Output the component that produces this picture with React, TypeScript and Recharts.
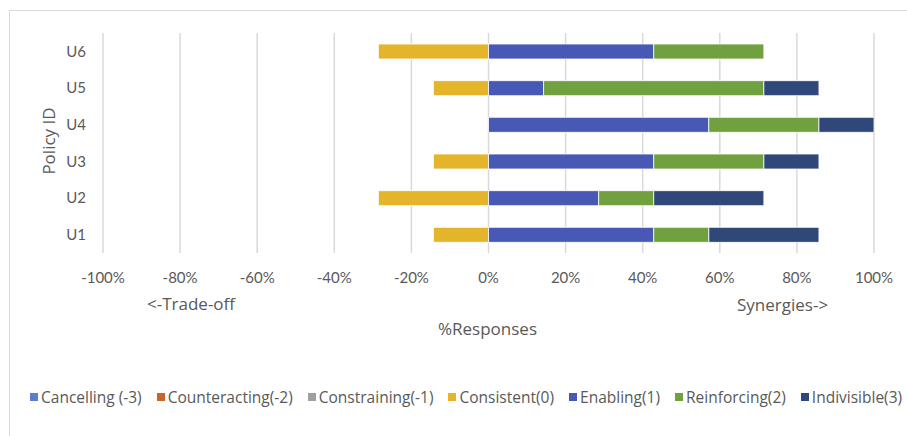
import { BarChart, Bar, XAxis, YAxis, CartesianGrid } from "recharts"

// Policy IDs, bottom to top
const policies = ["U1", "U2", "U3", "U4", "U5", "U6"]

// Share of responses per interaction score (Consistent is plotted to the left of zero)
const cancelling = [0, 0, 0, 0, 0, 0]
const counteracting = [0, 0, 0, 0, 0, 0]
const constraining = [0, 0, 0, 0, 0, 0]
const consistent = [-0.1429, -0.2857, -0.1429, 0, -0.1429, -0.2857]
const enabling = [0.4286, 0.2857, 0.4286, 0.5714, 0.1429, 0.4286]
const reinforcing = [0.1429, 0.1429, 0.2857, 0.2857, 0.5714, 0.2857]
const indivisible = [0.2857, 0.2857, 0.1429, 0.1429, 0.1429, 0]

const xTicks = [-1, -0.8, -0.6, -0.4, -0.2, 0, 0.2, 0.4, 0.6, 0.8, 1]

const SERIES = [
  { key: "cancelling", name: "Cancelling (-3)", color: "#5B7FCF", values: cancelling },
  { key: "counteracting", name: "Counteracting(-2)", color: "#C9652B", values: counteracting },
  { key: "constraining", name: "Constraining(-1)", color: "#A0A0A0", values: constraining },
  { key: "consistent", name: "Consistent(0)", color: "#E4B52B", values: consistent },
  { key: "enabling", name: "Enabling(1)", color: "#4759B5", values: enabling },
  { key: "reinforcing", name: "Reinforcing(2)", color: "#71A03F", values: reinforcing },
  { key: "indivisible", name: "Indivisible(3)", color: "#2F4779", values: indivisible },
]

const data = policies.map((id, i) => {
  const row: Record<string, number | string> = { id }
  SERIES.forEach((s) => (row[s.key] = s.values[i]))
  return row
})

const TICK_FONT = "Lato, 'Open Sans', sans-serif"
const FONT = "'Open Sans', Lato, sans-serif"
const TEXT = "#595959"

const pct = (v: number) => `${Math.round(v * 100)}%`

function ChartLegend() {
  return (
    <div
      style={{
        position: "absolute",
        left: 30,
        top: 386,
        display: "flex",
        gap: 15,
        fontFamily: FONT,
        fontSize: 15.5,
        color: TEXT,
        whiteSpace: "nowrap",
      }}
    >
      {SERIES.map((s) => (
        <div key={s.key} style={{ display: "flex", alignItems: "center", gap: 3 }}>
          <span style={{ width: 8, height: 8, background: s.color, display: "inline-block" }} />
          <span>{s.name}</span>
        </div>
      ))}
    </div>
  )
}

const label = (text: string, left: number, top: number, extra: React.CSSProperties = {}) => (
  <div
    style={{
      position: "absolute",
      left,
      top,
      fontFamily: FONT,
      fontSize: 17,
      color: TEXT,
      whiteSpace: "nowrap",
      ...extra,
    }}
  >
    {text}
  </div>
)

export default function App() {
  return (
    <div style={{ position: "absolute", left: 0, top: 0, width: 907, height: 436, overflow: "hidden", background: "#fff" }}>
      <div
        style={{
          position: "absolute",
          left: 9,
          top: 10,
          width: 920,
          height: 460,
          border: "1px solid #d9d9d9",
        }}
      />
      <BarChart
        width={907}
        height={436}
        data={data}
        layout="vertical"
        stackOffset="sign"
        barSize={15}
        margin={{ top: 33, right: 33, bottom: 143, left: 0 }}
        style={{ position: "absolute", left: 0, top: 0 }}
      >
        <CartesianGrid horizontal={false} stroke="#d9d9d9" strokeWidth={1.5} />
        <XAxis
          type="number"
          domain={[-1, 1]}
          ticks={xTicks}
          tickFormatter={pct}
          axisLine={false}
          tickLine={false}
          tickSize={0}
          tickMargin={19}
          height={40}
          tick={{ fill: TEXT, fontSize: 15, fontFamily: TICK_FONT }}
        />
        <YAxis
          type="category"
          dataKey="id"
          reversed
          width={103}
          axisLine={false}
          tickLine={false}
          tickSize={0}
          tickMargin={17}
          tick={{ fill: TEXT, fontSize: 15, fontFamily: TICK_FONT }}
        />
        {SERIES.map((s) => (
          <Bar
            key={s.key}
            dataKey={s.key}
            name={s.name}
            stackId="a"
            fill={s.color}
            stroke="#ffffff"
            strokeWidth={0.8}
            isAnimationActive={false}
          />
        ))}
      </BarChart>
      {label("<-Trade-off", 147, 292)}
      {label("Synergies->", 737, 293)}
      {label("%Responses", 438, 317)}
      {label("Policy ID", 48, 141, { transform: "translate(-50%, -50%) rotate(-90deg)" })}
      <ChartLegend />
    </div>
  )
}
